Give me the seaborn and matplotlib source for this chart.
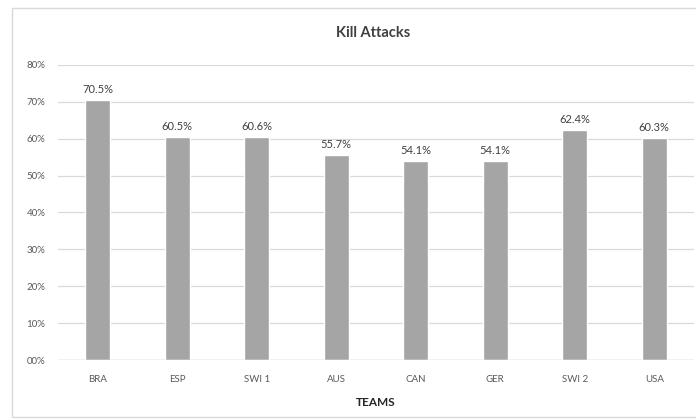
import matplotlib
matplotlib.use("Agg")
import matplotlib.pyplot as plt
import matplotlib.patches as mpatches
import seaborn as sns
import pandas as pd

teams = ["BRA", "ESP", "SWI 1", "AUS", "CAN", "GER", "SWI 2", "USA"]
kill_pct = [70.5, 60.5, 60.6, 55.7, 54.1, 54.1, 62.4, 60.3]
y_ticks = [0, 10, 20, 30, 40, 50, 60, 70, 80]
y_tick_labels = ["00%", "10%", "20%", "30%", "40%", "50%", "60%", "70%", "80%"]

df = pd.DataFrame({"team": teams, "kill": kill_pct})

sns.set_theme(style="white")
plt.rcParams["font.family"] = ["Lato", "DejaVu Sans"]

W, H = 696, 419
fig = plt.figure(figsize=(W / 100, H / 100), dpi=100)
ax = fig.add_axes([58 / W, 1 - 360 / H, (694 - 58) / W, (360 - 65) / H])

sns.barplot(data=df, x="team", y="kill", color="#a5a5a5", width=0.32,
            saturation=1, ax=ax, zorder=3)

ax.set_ylim(0, 80)
ax.set_xlim(-0.5, len(teams) - 0.5)
ax.set_yticks(y_ticks)
ax.set_yticklabels(y_tick_labels)
ax.yaxis.grid(True, color="#d9d9d9", linewidth=0.9, zorder=0)
for s in ax.spines.values():
    s.set_visible(False)
ax.axhline(0, color="#d0d0d0", linewidth=1.0, zorder=4)
ax.tick_params(axis="both", length=0, labelsize=7, labelcolor="#595959")
ax.tick_params(axis="x", pad=11)
ax.tick_params(axis="y", pad=9)

for i, v in enumerate(kill_pct):
    ax.text(i, v + 1.3, f"{v:.1f}%", ha="center", va="bottom",
            fontsize=8, color="#404040")

ax.set_xlabel("TEAMS", fontsize=8.5, fontweight="bold", color="#262626", labelpad=9)
ax.set_ylabel("")

fig.text(373 / W, 1 - 33 / H, "Kill Attacks", ha="center", va="center",
         fontsize=10.5, fontweight="bold", color="#404040")

# outer chart frame
fig.patches.append(mpatches.Rectangle((12 / W, 1 - 417 / H), 1.0, (417 - 8) / H,
                                      transform=fig.transFigure, fill=False,
                                      edgecolor="#d9d9d9", linewidth=1.0))

fig.savefig("out.png", dpi=100, facecolor="white")
